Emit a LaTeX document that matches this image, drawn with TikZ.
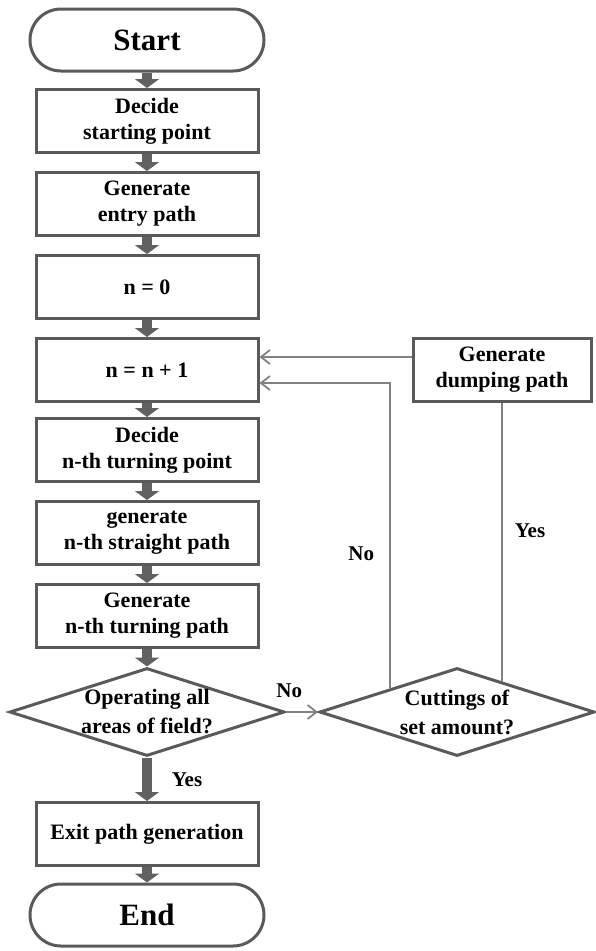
\documentclass[tikz,border=0pt]{standalone}
\usepackage{fontspec}
\setmainfont{Liberation Serif}
\usetikzlibrary{arrows.meta,calc,shapes.geometric}

\definecolor{boxgray}{HTML}{5A5A5A}
\definecolor{flowgray}{HTML}{616161}
\definecolor{linegray}{HTML}{828282}

\tikzset{
  box/.style={draw=boxgray, line width=3pt, fill=white, minimum width=222pt, minimum height=63pt,
    inner sep=0pt, align=center, font=\bfseries\fontsize{22}{26}\selectfont},
  term/.style={box, rounded corners=31pt, minimum width=234pt, minimum height=62pt,
    font=\bfseries\fontsize{31}{36}\selectfont},
  decision/.style={diamond, draw=boxgray, line width=3pt, fill=white, inner sep=0pt,
    minimum width=275pt, minimum height=88pt},
  dtext/.style={align=center, inner sep=0pt, font=\bfseries\fontsize{22}{29}\selectfont},
  lbl/.style={inner sep=0pt, font=\bfseries\fontsize{21}{25}\selectfont},
  flow/.style={draw=flowgray, line width=10pt, -{Triangle[length=9pt,width=24pt]}},
  conn/.style={draw=linegray, line width=1.8pt},
  arr/.style={conn, -{Straight Barb[length=9pt,width=14pt]}}
}

\begin{document}
\begin{tikzpicture}[x=1pt,y=-1pt]
\useasboundingbox (0,0) rectangle (595,951);

% Hauptspalte
\node[term] (start) at (147,40) {Start};
\node[box] (dsp) at (147,121) {Decide\\starting point};
\node[box] (entry) at (147,204) {Generate\\entry path};
\node[box] (n0) at (147,287) {n = 0};
\node[box] (nn1) at (147,370) {n = n + 1};
\node[box] (dnth) at (147,450) {Decide\\n-th turning point};
\node[box] (snth) at (147,533) {generate\\n-th straight path};
\node[box] (tnth) at (147,616) {Generate\\n-th turning path};
\node[decision, label={[dtext]center:{Operating all\\areas of field?}}] (dec1) at (147,712) {};
\node[box] (exit) at (147,834) {Exit path generation};
\node[term] (end) at (147,915) {End};

% Nebenzweig
\node[decision, label={[dtext]center:{Cuttings of\\set amount?}}] (dec2) at (457,712) {};
\node[box, minimum width=178pt] (dump) at (502,370) {Generate\\dumping path};

% dicke Pfeile
\foreach \a/\b in {start/dsp, dsp/entry, entry/n0, n0/nn1, nn1/dnth, dnth/snth, snth/tnth, tnth/dec1, exit/end}
  \draw[flow] (\a.south) -- (\b.north);
\draw[flow] (dec1.south) -- node[lbl, xshift=40pt] {Yes} (exit.north);

% duenne Linien
\coordinate (noend) at ($(dec2.north)!0.48!(dec2.west)$);
\coordinate (yesend) at ($(dec2.north)!0.32!(dec2.east)$);
\draw[arr] (dec1.east) -- node[lbl, pos=0.1, above=13pt] {No} (dec2.west);
\draw[arr] ([yshift=13pt]dump.west) -- ([yshift=13pt]nn1.east);
\draw[arr] (noend) |- node[lbl, pos=0.22, xshift=-29pt] {No} ([yshift=-13pt]nn1.east);
\draw[conn] (dump.south) -- node[lbl, pos=0.46, xshift=28pt] {Yes} (dump.south |- yesend);

\end{tikzpicture}
\end{document}
